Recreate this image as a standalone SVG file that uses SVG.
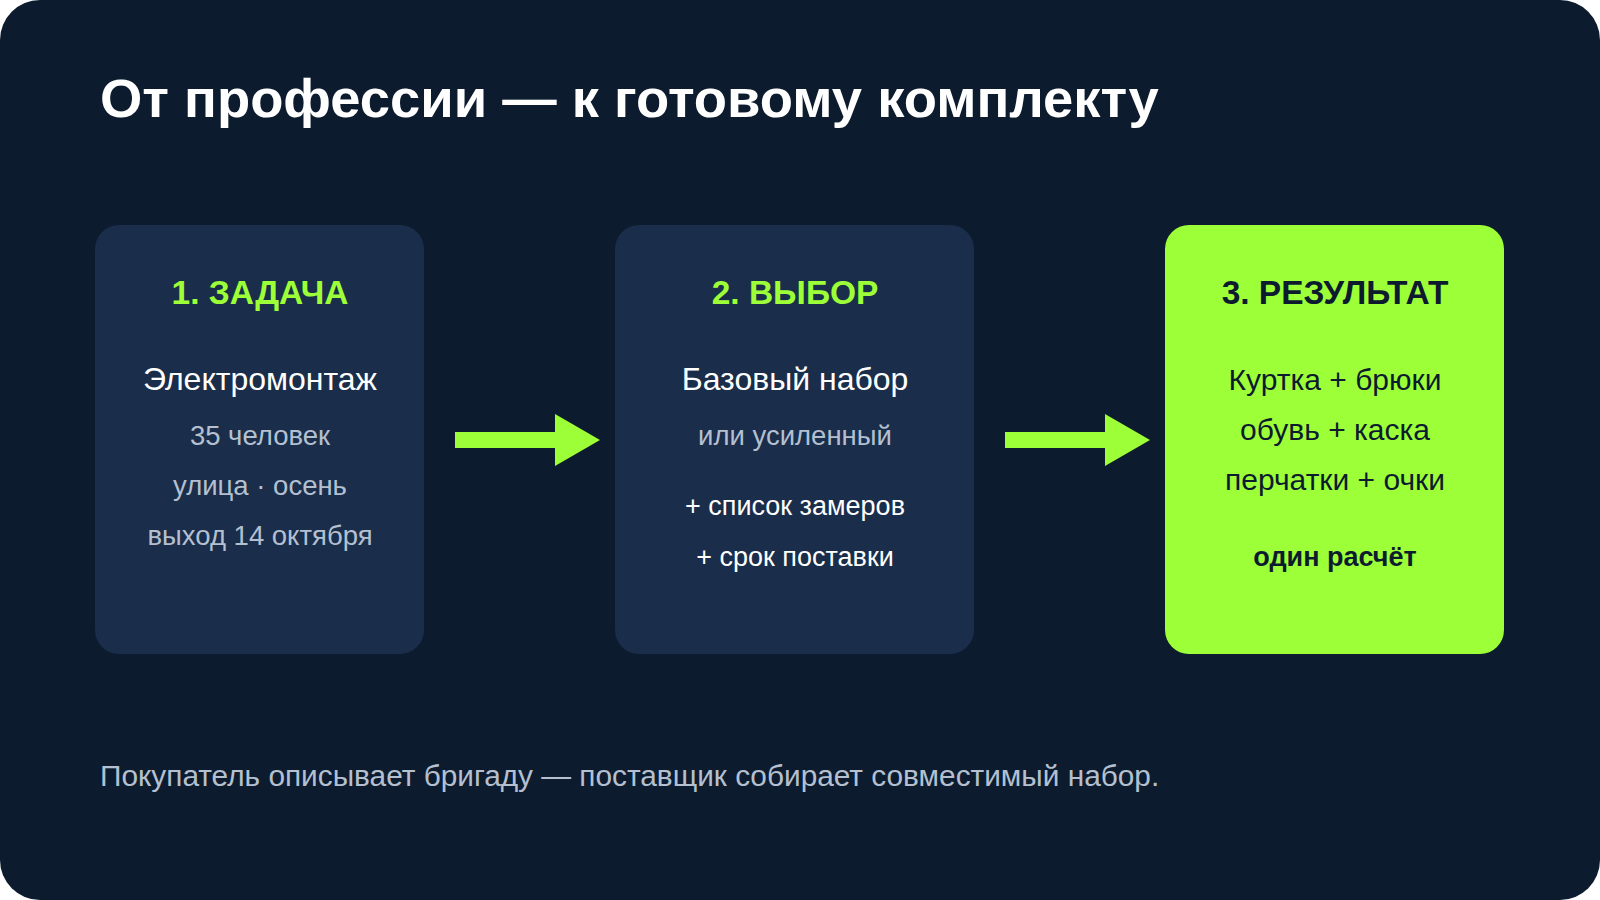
<svg xmlns="http://www.w3.org/2000/svg" width="1600" height="900" viewBox="0 0 1600 900">
<style>
text{font-family:"Liberation Sans",Arial,sans-serif;text-anchor:middle}
.h{font-size:33.5px;font-weight:bold;fill:#9dff37}
.m{font-size:32px;fill:#ffffff}
.s{font-size:27.5px;fill:#b4c0d0}
.w{font-size:27px;fill:#ffffff}
.d{fill:#0d1b2e}
.box{fill:#1a2d4a}
.arr{fill:#9dff37}
</style>
<rect width="1600" height="900" fill="#ffffff"/>
<rect width="1600" height="900" rx="40" fill="#0d1b2e"/>
<text x="100" y="117" style="text-anchor:start;font-size:54.4px;font-weight:bold;fill:#ffffff">От профессии — к готовому комплекту</text>
<g id="node1">
<rect class="box" x="95" y="225" width="329" height="429" rx="24"/>
<text class="h" x="260" y="304">1. ЗАДАЧА</text>
<text class="m" x="260" y="390">Электромонтаж</text>
<text class="s" x="260" y="445">35 человек</text>
<text class="s" x="260" y="495">улица · осень</text>
<text class="s" x="260" y="545">выход 14 октября</text>
</g>
<g id="node2">
<rect class="box" x="615" y="225" width="359" height="429" rx="24"/>
<text class="h" x="795" y="304">2. ВЫБОР</text>
<text class="m" x="795" y="390">Базовый набор</text>
<text class="s" x="795" y="445">или усиленный</text>
<text class="w" x="795" y="515">+ список замеров</text>
<text class="w" x="795" y="566">+ срок поставки</text>
</g>
<g id="node3">
<rect x="1165" y="225" width="339" height="429" rx="24" fill="#9dff37"/>
<text class="h d" x="1335" y="304">3. РЕЗУЛЬТАТ</text>
<text class="d" x="1335" y="390" font-size="30">Куртка + брюки</text>
<text class="d" x="1335" y="440" font-size="30">обувь + каска</text>
<text class="d" x="1335" y="490" font-size="30">перчатки + очки</text>
<text class="d" x="1335" y="566" font-size="27" font-weight="bold">один расчёт</text>
</g>
<g id="connectors">
<polygon class="arr" points="455,432 555,432 555,414 600,440 555,466 555,448 455,448"/>
<polygon class="arr" points="1005,432 1105,432 1105,414 1150,440 1105,466 1105,448 1005,448"/>
</g>
<text x="100" y="786" style="text-anchor:start;font-size:29.8px;fill:#b4c0d0">Покупатель описывает бригаду — поставщик собирает совместимый набор.</text>
</svg>
